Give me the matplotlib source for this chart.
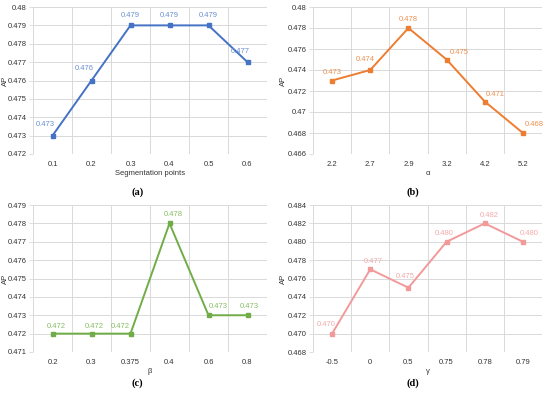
import numpy as np
import matplotlib
matplotlib.use("Agg")
import matplotlib.pyplot as plt

plt.rcParams['font.family'] = ['Liberation Sans', 'DejaVu Sans']

# ---- data ----
a_cats = ["0.1", "0.2", "0.3", "0.4", "0.5", "0.6"]
a_vals = [0.473, 0.476, 0.479, 0.479, 0.479, 0.477]
a_ticks = [0.472, 0.473, 0.474, 0.475, 0.476, 0.477, 0.478, 0.479, 0.48]
a_ticklabels = ["0.472", "0.473", "0.474", "0.475", "0.476", "0.477", "0.478", "0.479", "0.48"]
a_labels = ["0.473", "0.476", "0.479", "0.479", "0.479", "0.477"]

b_cats = ["2.2", "2.7", "2.9", "3.2", "4.2", "5.2"]
b_vals = [0.473, 0.474, 0.478, 0.475, 0.471, 0.468]
b_ticks = [0.466, 0.468, 0.470, 0.472, 0.474, 0.476, 0.478, 0.480]
b_ticklabels = ["0.466", "0.468", "0.47", "0.472", "0.474", "0.476", "0.478", "0.48"]
b_labels = ["0.473", "0.474", "0.478", "0.475", "0.471", "0.468"]

c_cats = ["0.2", "0.3", "0.375", "0.4", "0.6", "0.8"]
c_vals = [0.472, 0.472, 0.472, 0.478, 0.473, 0.473]
c_ticks = [0.471, 0.472, 0.473, 0.474, 0.475, 0.476, 0.477, 0.478, 0.479]
c_ticklabels = ["0.471", "0.472", "0.473", "0.474", "0.475", "0.476", "0.477", "0.478", "0.479"]
c_labels = ["0.472", "0.472", "0.472", "0.478", "0.473", "0.473"]

d_cats = ["-0.5", "0", "0.5", "0.75", "0.78", "0.79"]
d_vals = [0.470, 0.477, 0.475, 0.480, 0.482, 0.480]
d_ticks = [0.468, 0.470, 0.472, 0.474, 0.476, 0.478, 0.480, 0.482, 0.484]
d_ticklabels = ["0.468", "0.470", "0.472", "0.474", "0.476", "0.478", "0.480", "0.482", "0.484"]
d_labels = ["0.470", "0.477", "0.475", "0.480", "0.482", "0.480"]

# ---- styles ----
W, H = 550, 393
fig = plt.figure(figsize=(W / 100, H / 100), dpi=100)

def rect(x0, y0, x1, y1):
    return [x0 / W, 1 - y1 / H, (x1 - x0) / W, (y1 - y0) / H]

panels = [
    dict(rect=rect(33, 7, 267, 154), cats=a_cats, vals=a_vals, ticks=a_ticks, tl=a_ticklabels,
         labels=a_labels, xlabel="Segmentation points", color="#4472C4", lcolor="#6A8FD4",
         offs=[(-7, 8), (-7, 9), (0, 6), (0, 6), (0, 6), (-7, 7)], cap="(a)", capx=137.5, capy=192,
         ylx=9),
    dict(rect=rect(313, 7, 542, 154), cats=b_cats, vals=b_vals, ticks=b_ticks, tl=b_ticklabels,
         labels=b_labels, xlabel="α", color="#ED7D31", lcolor="#EF9050",
         offs=[(0, 5), (-5, 7), (0, 5), (13, 4), (11, 3), (11, 5)], cap="(b)", capx=412.5, capy=192,
         ylx=287),
    dict(rect=rect(33, 205, 267, 352), cats=c_cats, vals=c_vals, ticks=c_ticks, tl=c_ticklabels,
         labels=c_labels, xlabel="β", color="#70AD47", lcolor="#86BD63",
         offs=[(4, 4), (3, 4), (-10, 4), (4, 5), (10, 5), (2, 5)], cap="(c)", capx=137.5, capy=383,
         ylx=9),
    dict(rect=rect(313, 205, 542, 352), cats=d_cats, vals=d_vals, ticks=d_ticks, tl=d_ticklabels,
         labels=d_labels, xlabel="γ", color="#F29A9A", lcolor="#F3AAAA",
         offs=[(-6, 6), (3, 4), (-3, 8), (-2, 5), (4, 4), (6, 5)], cap="(d)", capx=412.5, capy=383,
         ylx=287),
]

grid_c = "#D9D9D9"
txt_c = "#333333"
fs = 5.5

for p in panels:
    ax = fig.add_axes(p["rect"])
    x = np.arange(len(p["cats"]))
    ax.plot(x, p["vals"], color=p["color"], lw=1.4, marker="s", ms=3.4,
            markerfacecolor=p["color"], markeredgecolor=p["color"], zorder=3, clip_on=False)
    for xi, v, lab, (dx, dy) in zip(x, p["vals"], p["labels"], p["offs"]):
        ax.annotate(lab, (xi, v), xytext=(dx, dy), textcoords="offset pixels",
                    ha="center", va="bottom", fontsize=fs, color=p["lcolor"])
    ax.set_xlim(-0.5, len(x) - 0.5)
    ax.set_ylim(p["ticks"][0], p["ticks"][-1])
    ax.set_xticks(x)
    ax.set_xticklabels(p["cats"])
    ax.set_xticks(np.arange(-0.5, len(x), 1), minor=True)
    ax.set_yticks(p["ticks"])
    ax.set_yticklabels(p["tl"])
    ax.tick_params(axis="x", which="major", length=0, pad=5, labelsize=fs, labelcolor=txt_c)
    ax.tick_params(axis="x", which="minor", length=0)
    ax.tick_params(axis="y", length=3, width=0.6, color=grid_c, pad=1.5, labelsize=fs, labelcolor=txt_c)
    ax.grid(True, axis="y", which="major", color=grid_c, lw=0.7)
    ax.grid(True, axis="x", which="minor", color=grid_c, lw=0.7)
    for s in ax.spines.values():
        s.set_visible(False)
    ax.set_axisbelow(True)
    ax.set_ylabel("AP", fontsize=fs, color=txt_c)
    axw = p["rect"][2] * W
    ax.yaxis.set_label_coords((p["ylx"] - p["rect"][0] * W) / axw, 0.5)
    ax.set_xlabel(p["xlabel"], fontsize=fs, color=txt_c, labelpad=1.5)
    fig.text(p["capx"] / W, 1 - p["capy"] / H, p["cap"], ha="center", va="center",
             fontsize=7.5, fontweight="bold", family=["Liberation Serif", "DejaVu Serif"])

fig.savefig("out.png", dpi=100)
